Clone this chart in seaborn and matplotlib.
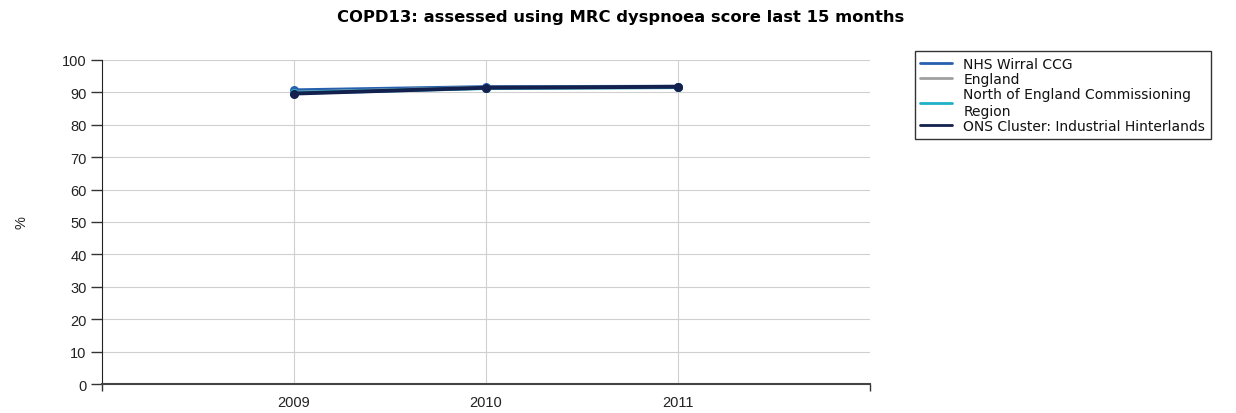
import numpy as np
import pandas as pd
import matplotlib
matplotlib.use("Agg")
import matplotlib.pyplot as plt
import seaborn as sns

# ============================================
# Data
# ============================================
years = [2009, 2010, 2011]
series_names = [
    "NHS Wirral CCG",
    "England",
    "North of England Commissioning\nRegion",
    "ONS Cluster: Industrial Hinterlands",
]
wirral = [90.6, 91.6, 91.7]
england = [89.9, 91.4, 91.6]
north = [89.8, 91.3, 91.6]
ons = [89.6, 91.4, 91.7]
colors = ["#2860b0", "#a0a0a0", "#20b0c8", "#14204e"]

df = pd.DataFrame({
    "year": years * 4,
    "value": wirral + england + north + ons,
    "series": [s for s in series_names for _ in years],
})

sns.set_style("white")
plt.rcParams["font.family"] = ["Liberation Sans", "DejaVu Sans"]
plt.rcParams["text.color"] = "#111111"

fig = plt.figure(figsize=(12.36, 4.14), dpi=100)
ax = fig.add_axes([0.0825, 0.070, 0.6215, 0.783])

# draw order so that the CCG and cluster lines sit on top
draw_order = [1, 2, 3, 0]
for i in draw_order:
    name = series_names[i]
    sub = df[df["series"] == name]
    sns.lineplot(data=sub, x="year", y="value", color=colors[i], lw=2.8,
                 marker="o", markersize=6.5, markeredgewidth=0, ax=ax,
                 label=name, zorder=3 + i)

ax.set_xlim(2008, 2012)
ax.set_ylim(0, 100)
ax.set_xticks(years)
ax.set_xticklabels([str(y) for y in years], fontsize=10.5)
ax.set_xticks([2008, 2012], minor=True)
ax.set_yticks(np.arange(0, 101, 10))
ax.set_yticklabels([str(v) for v in range(0, 101, 10)], fontsize=10.5)
ax.tick_params(axis="y", direction="out", length=8, width=1, color="#333333",
               left=True, pad=3, labelcolor="#222222")
ax.tick_params(axis="x", which="major", length=0, pad=8, labelcolor="#222222")
ax.tick_params(axis="x", which="minor", direction="out", length=5, width=1,
               color="#333333", bottom=True)

ax.grid(True, color="#d0d0d0", lw=0.8)

for side in ["top", "right"]:
    ax.spines[side].set_visible(False)
ax.spines["left"].set_color("#222222")
ax.spines["bottom"].set_color("#444444")
ax.spines["bottom"].set_linewidth(1.5)
ax.set_xlabel("")
ax.set_ylabel("%", fontsize=10.5, labelpad=24, color="#222222")

fig.suptitle("COPD13: assessed using MRC dyspnoea score last 15 months",
             x=0.502, y=0.975, fontsize=11.8, fontweight="bold",
             family="DejaVu Sans", color="#000000")

# legend in original order
handles, labels = ax.get_legend_handles_labels()
lookup = dict(zip(labels, handles))
leg = ax.legend([lookup[n] for n in series_names], series_names,
                loc="upper left", bbox_to_anchor=(0.740, 0.874),
                bbox_transform=fig.transFigure, borderaxespad=0,
                frameon=True, fancybox=False,
                prop={"family": "DejaVu Sans", "size": 10},
                handlelength=2.3, handletextpad=0.8,
                labelspacing=0.1, borderpad=0.4)
leg.get_frame().set_edgecolor("#000000")
leg.get_frame().set_linewidth(1)
for line in leg.get_lines():
    line.set_marker("")
    line.set_linewidth(2)

fig.savefig("out.png", dpi=100)
